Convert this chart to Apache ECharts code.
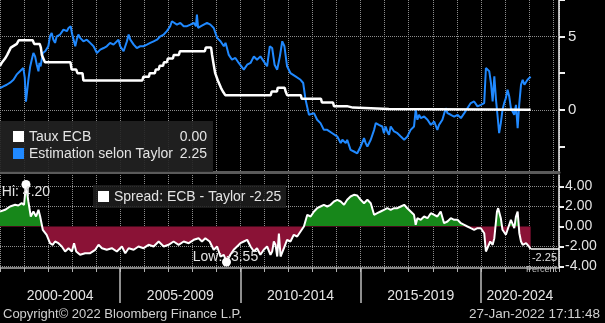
<!DOCTYPE html>
<html><head><meta charset="utf-8">
<script src="https://cdn.jsdelivr.net/npm/echarts@6/dist/echarts.min.js"></script>
<style>html,body{margin:0;padding:0;background:#000;}#c{width:605px;height:323px;}</style>
</head><body><div id="c"></div>
<script>
// ---- DATA (decimal years) ----
const ecbDates = [2000.00,2000.09,2000.21,2000.30,2000.45,2000.70,2000.78,2001.36,2001.42,2001.65,2001.70,2001.74,2001.87,
  2002.93,2002.98,2003.17,2003.22,2003.43,2003.47,2005.92,2005.96,2006.19,2006.23,2006.44,2006.48,2006.60,2006.64,
  2006.78,2006.82,2006.94,2006.98,2007.19,2007.23,2007.44,2007.48,2008.52,2008.56,2008.78,2008.82,2008.87,2008.95,
  2009.06,2009.19,2009.27,2009.37,2011.26,2011.30,2011.52,2011.55,2011.84,2011.88,2011.94,2012.51,2012.55,2013.35,
  2013.39,2013.85,2013.89,2014.43,2014.47,2014.68,2014.72,2016.17,2016.21,2022.07];
const ecbValues = [3.00,3.25,3.50,3.75,4.25,4.50,4.75,4.75,4.50,4.50,4.25,3.75,3.25,
  3.25,2.75,2.75,2.50,2.50,2.00,2.00,2.25,2.25,2.50,2.50,2.75,2.75,3.00,
  3.00,3.25,3.25,3.50,3.50,3.75,3.75,4.00,4.00,4.25,4.25,3.75,3.25,2.50,
  2.00,1.50,1.25,1.00,1.00,1.25,1.25,1.50,1.50,1.25,1.00,1.00,0.75,0.75,
  0.50,0.50,0.25,0.25,0.15,0.15,0.05,0.05,0.00,0.00];

const taylorDates = [2000.00,2000.14,2000.28,2000.42,2000.56,2000.69,2000.83,2000.97,2001.03,2001.08,2001.13,2001.18,2001.25,
  2001.32,2001.39,2001.46,2001.53,2001.60,2001.64,2001.69,2001.78,2001.88,2002.01,2002.08,2002.15,2002.22,2002.29,
  2002.36,2002.50,2002.64,2002.78,2002.85,2002.94,2002.99,2003.06,2003.13,2003.19,2003.26,2003.33,2003.47,2003.61,
  2003.75,2003.89,2004.03,2004.17,2004.31,2004.44,2004.58,2004.72,2004.93,2005.00,2005.14,2005.28,2005.35,2005.42,
  2005.56,2005.69,2005.83,2005.97,2006.11,2006.25,2006.39,2006.53,2006.67,2006.81,2006.94,2007.08,2007.15,2007.22,
  2007.36,2007.50,2007.64,2007.78,2007.92,2008.06,2008.15,2008.19,2008.24,2008.36,2008.61,2008.75,2008.89,2009.03,
  2009.17,2009.24,2009.31,2009.38,2009.44,2009.51,2009.65,2009.79,2009.93,2010.14,2010.28,2010.42,2010.56,2010.69,
  2010.83,2010.97,2011.11,2011.22,2011.32,2011.42,2011.53,2011.64,2011.74,2011.83,2011.94,2012.08,2012.29,2012.50,
  2012.61,2012.71,2012.85,2013.06,2013.19,2013.33,2013.47,2013.61,2013.82,2013.89,2014.03,2014.17,2014.24,2014.31,
  2014.38,2014.44,2014.58,2014.72,2014.86,2014.93,2015.00,2015.14,2015.21,2015.28,2015.42,2015.56,2015.63,2015.76,
  2015.90,2015.97,2016.04,2016.11,2016.18,2016.25,2016.39,2016.53,2016.67,2016.81,2016.88,2016.94,2017.08,2017.22,
  2017.29,2017.36,2017.43,2017.50,2017.64,2017.78,2017.92,2018.06,2018.19,2018.26,2018.33,2018.40,2018.54,2018.61,
  2018.75,2018.89,2019.03,2019.17,2019.31,2019.44,2019.58,2019.72,2019.86,2020.00,2020.14,2020.21,2020.35,2020.42,
  2020.49,2020.56,2020.63,2020.69,2020.76,2020.83,2020.90,2020.97,2021.04,2021.11,2021.18,2021.25,2021.39,2021.46,
  2021.53,2021.60,2021.67,2021.74,2021.81,2021.94,2022.07];
const taylorValues = [1.48,1.60,1.71,1.85,2.05,2.40,2.63,2.85,2.20,0.55,1.30,2.05,2.90,
  3.42,3.88,3.65,3.08,2.63,3.20,2.97,3.88,4.00,4.34,5.02,5.25,4.79,4.57,
  5.02,5.14,5.48,5.37,5.59,5.71,5.25,4.79,4.34,4.79,5.14,4.91,4.68,4.79,
  4.57,4.34,3.88,4.11,4.22,4.34,4.57,4.45,4.79,4.34,4.00,4.68,5.14,4.79,
  4.45,4.22,4.34,4.34,4.45,4.57,4.68,4.79,5.02,5.14,5.37,5.71,6.05,6.16,
  5.82,5.94,5.71,5.71,5.82,5.94,5.70,6.50,5.59,5.71,5.94,5.82,5.59,4.91,
  4.68,4.57,4.34,4.57,4.22,3.77,3.42,3.54,3.20,2.74,3.08,3.20,3.65,3.42,
  3.65,3.31,2.97,4.34,4.22,3.08,2.74,3.65,4.68,4.34,2.97,2.51,2.28,2.05,
  1.83,0.68,-0.34,-0.23,-0.68,-0.91,-1.37,-1.37,-1.60,-1.60,-1.83,-2.28,-2.05,-1.94,
  -2.28,-2.05,-2.74,-2.85,-2.97,-3.08,-2.51,-1.94,-2.28,-2.51,-2.05,-1.37,-0.91,-1.03,
  -1.14,-1.60,-1.14,-1.48,-1.71,-1.14,-1.48,-1.60,-1.83,-2.05,-2.17,-1.83,-1.37,-1.14,
  0.00,-0.68,-0.34,-0.57,-0.46,-0.68,-1.03,-0.80,-1.37,-1.03,-1.14,-0.68,0.11,-0.23,
  -0.34,-0.46,-0.34,-0.57,-0.23,0.11,0.46,0.57,0.23,0.34,0.46,2.85,2.63,1.83,
  0.57,2.28,0.68,-0.34,-1.60,-0.91,0.00,0.46,0.80,1.37,0.91,0.11,-0.34,0.34,
  -1.26,0.46,1.71,2.05,1.71,2.05,2.25];

const spreadDates = [2000.00,2000.21,2000.42,2000.63,2000.76,2000.90,2001.00,2001.08,2001.18,2001.28,2001.39,2001.50,2001.60,
  2001.67,2001.78,2001.94,2002.08,2002.19,2002.29,2002.43,2002.57,2002.71,2002.85,2002.99,2003.08,2003.17,2003.33,
  2003.54,2003.75,2003.96,2004.10,2004.24,2004.44,2004.65,2004.86,2005.07,2005.21,2005.35,2005.56,2005.76,2005.97,
  2006.18,2006.39,2006.60,2006.81,2007.01,2007.22,2007.43,2007.64,2007.85,2008.06,2008.26,2008.40,2008.54,2008.72,
  2008.89,2009.03,2009.17,2009.31,2009.42,2009.58,2009.72,2009.86,2010.00,2010.14,2010.28,2010.42,2010.56,2010.69,
  2010.83,2010.97,2011.11,2011.25,2011.32,2011.39,2011.46,2011.53,2011.60,2011.67,2011.81,2011.94,2012.08,2012.22,
  2012.36,2012.50,2012.64,2012.78,2012.92,2013.06,2013.19,2013.33,2013.47,2013.61,2013.75,2013.89,2014.03,2014.17,
  2014.31,2014.44,2014.58,2014.72,2014.86,2014.93,2015.00,2015.14,2015.28,2015.42,2015.56,2015.69,2015.83,2015.97,
  2016.11,2016.25,2016.39,2016.53,2016.67,2016.81,2016.94,2017.08,2017.22,2017.29,2017.36,2017.50,2017.64,2017.78,
  2017.92,2018.06,2018.19,2018.33,2018.47,2018.61,2018.75,2018.89,2019.03,2019.17,2019.31,2019.44,2019.58,2019.72,
  2019.86,2020.00,2020.14,2020.21,2020.28,2020.39,2020.49,2020.56,2020.67,2020.72,2020.83,2020.90,2021.04,2021.11,
  2021.25,2021.39,2021.46,2021.53,2021.60,2021.67,2021.74,2021.88,2022.00,2022.03,2022.07];
const spreadValues = [1.50,1.67,2.00,2.17,2.10,2.33,2.17,4.20,2.50,1.00,1.50,1.00,1.67,
  1.00,-0.33,-0.83,-1.67,-1.83,-1.50,-1.67,-2.00,-2.50,-2.17,-2.50,-1.67,-2.50,-2.83,
  -2.67,-2.67,-2.33,-1.83,-2.17,-2.33,-2.17,-2.50,-2.00,-2.67,-2.17,-2.33,-2.00,-2.17,
  -1.83,-2.00,-1.50,-2.00,-1.83,-1.50,-1.83,-1.50,-1.67,-1.33,-1.17,-1.50,-1.17,-1.50,
  -2.33,-2.00,-3.00,-2.83,-3.55,-2.83,-2.33,-2.00,-1.67,-1.50,-1.33,-2.00,-2.50,-2.17,
  -2.83,-2.33,-2.00,-2.83,-2.50,-1.50,-1.83,-3.00,-0.70,-3.00,-2.17,-1.33,-1.50,-0.83,
  -1.00,-0.50,0.00,1.17,1.00,1.50,1.83,2.00,2.17,2.00,2.17,2.50,2.67,2.50,
  2.17,2.67,3.00,3.17,3.10,3.17,2.67,2.33,2.67,2.33,1.17,1.33,1.50,1.67,
  1.83,1.67,1.83,1.83,2.00,2.17,1.83,1.50,1.17,0.17,0.83,0.67,1.00,0.83,
  1.33,1.17,1.00,1.50,0.33,0.50,0.83,0.67,0.67,0.33,0.17,0.00,-0.17,-0.33,
  -0.17,-0.17,-0.67,-2.50,-2.67,-1.50,-1.83,-1.17,1.50,1.83,0.83,-0.33,-0.83,-0.67,
  0.67,-0.17,1.00,1.50,-0.67,-1.50,-1.83,-1.67,-2.00,-2.17,-2.25];

const spreadHi = [2001.08, 4.20];
const spreadLow = [2009.42, -3.55];
const upperTickValues = [-2.5, 0, 2.5, 5, 7.5];
const upperLabelValues = [0, 5];
const upperGridValues = [0, 5];
const lowerLabelValues = [-4, -2, 0, 2, 4];
const lowerGridValues = [-4, -2, 2, 4];
const periodStarts = [2000, 2005, 2010, 2015, 2020];
const periodLabels = ['2000-2004', '2005-2009', '2010-2014', '2015-2019', '2020-2024'];
const seriesNames = ['Taux ECB', 'Estimation selon Taylor', 'Spread: ECB - Taylor'];
const copyrightText = 'Copyright\u00A9 2022 Bloomberg Finance L.P.';
const stampText = '27-Jan-2022 17:11:48';
const unitText = 'Percent';

// ---- BUILD ----
const xMin = 2000, xMax = 2023.25;
const lowMin = -4.15, lowMax = 5.15;
const pairs = (d, v) => d.map((x, i) => [x, v[i]]);
const ecbData = pairs(ecbDates, ecbValues);
const taylorData = pairs(taylorDates, taylorValues);
const spreadData = pairs(spreadDates, spreadValues);
const last = a => a[a.length - 1];
const periodCenters = periodStarts.map((s, i) => i < periodStarts.length - 1 ? s + 2.5 : (s + xMax) / 2);
const lastSpreadX = last(spreadDates), lastSpreadV = last(spreadValues);

const TXT = '#e4e4e4';
const GREEN = '#17871a', MAROON = '#8a1236';
const FONT = 'Liberation Sans, Arial, sans-serif';
const dotted = () => ({ color: '#8c8c8c', width: 1, type: 'dotted', dashOffset: 0 });

const chart = echarts.init(document.getElementById('c'), null, { renderer: 'canvas' });
chart.setOption({
  backgroundColor: '#000',
  animation: false,
  textStyle: { fontFamily: FONT },
  grid: [
    { left: 0, right: 46, top: 0, height: 172 },
    { left: 0, right: 46, top: 175, height: 93 }
  ],
  xAxis: [
    { gridIndex: 0, type: 'value', min: xMin, max: xMax, interval: 1,
      axisLine: { show: true, onZero: false, lineStyle: { color: '#5a5a5a', width: 3 } },
      axisTick: { show: false }, axisLabel: { show: false },
      splitLine: { show: true, lineStyle: dotted() } },
    { gridIndex: 1, type: 'value', min: xMin, max: xMax, interval: 1,
      axisLine: { show: true, onZero: false, lineStyle: { color: '#b0b0b0', width: 1.5 } },
      axisTick: { show: true, length: 4, lineStyle: { color: '#b0b0b0' } },
      axisLabel: { show: false },
      splitLine: { show: true, lineStyle: dotted() } },
    { gridIndex: 1, type: 'value', min: xMin, max: xMax, position: 'bottom',
      axisLine: { show: false, onZero: false },
      axisTick: { show: false },
      axisLabel: { show: true, customValues: periodCenters, margin: 21, color: TXT, fontSize: 14, fontFamily: FONT,
        formatter: v => { const i = periodCenters.findIndex(c => Math.abs(c - v) < 1e-6); return i >= 0 ? periodLabels[i] : ''; } },
      splitLine: { show: false } },
    { gridIndex: 1, type: 'value', min: xMin, max: xMax, position: 'bottom',
      axisLine: { show: false, onZero: false },
      axisTick: { show: true, customValues: periodStarts.slice(1), length: 35, lineStyle: { color: '#bdbdbd', width: 1.5 } },
      axisLabel: { show: false },
      splitLine: { show: false } }
  ],
  yAxis: [
    { gridIndex: 0, type: 'value', position: 'right', min: -4.25, max: 7.5,
      axisLine: { show: true, lineStyle: { color: '#f0f0f0', width: 1.5 } },
      axisTick: { show: true, customValues: upperTickValues, length: 6, lineStyle: { color: '#f0f0f0', width: 2 } },
      axisLabel: { show: true, customValues: upperLabelValues, margin: 9, color: TXT, fontSize: 15, fontFamily: FONT },
      splitLine: { show: false } },
    { gridIndex: 1, type: 'value', position: 'right', min: lowMin, max: lowMax,
      axisLine: { show: true, lineStyle: { color: '#f0f0f0', width: 1.5 } },
      axisTick: { show: true, customValues: lowerLabelValues, length: 5, lineStyle: { color: '#f0f0f0', width: 2 } },
      axisLabel: { show: true, customValues: lowerLabelValues, margin: 6, color: TXT, fontSize: 14, fontFamily: FONT,
        formatter: v => v.toFixed(2) },
      splitLine: { show: false } }
  ],
  series: [
    { name: seriesNames[1], type: 'line', xAxisIndex: 0, yAxisIndex: 0, data: taylorData,
      showSymbol: false, symbol: 'none', z: 2,
      lineStyle: { color: '#2089ff', width: 2 },
      markLine: { silent: true, symbol: ['none', 'none'], z: 1, label: { show: false },
        lineStyle: dotted(), data: upperGridValues.map(v => ({ yAxis: v })) } },
    { name: seriesNames[0], type: 'line', xAxisIndex: 0, yAxisIndex: 0, data: ecbData,
      showSymbol: false, symbol: 'none', z: 3,
      lineStyle: { color: '#ffffff', width: 2.5 } },
    { id: 'spreadArea', name: seriesNames[2] + ' area', type: 'line', xAxisIndex: 1, yAxisIndex: 1, data: spreadData,
      showSymbol: false, symbol: 'none', z: 2,
      lineStyle: { width: 0, opacity: 0 },
      areaStyle: { opacity: 1, origin: 0, color: MAROON } },
    { name: seriesNames[2], type: 'line', xAxisIndex: 1, yAxisIndex: 1, data: spreadData,
      showSymbol: false, symbol: 'none', z: 4,
      lineStyle: { color: '#ffffff', width: 2 },
      markPoint: {
        silent: true, symbol: 'circle', symbolSize: 9, itemStyle: { color: '#ffffff' },
        data: [
          { coord: spreadHi, value: spreadHi[1],
            label: { show: true, position: 'inside', offset: [0, 8], formatter: 'Hi: ' + spreadHi[1].toFixed(2),
              color: TXT, fontSize: 14, fontFamily: FONT } },
          { coord: spreadLow, value: spreadLow[1],
            label: { show: true, position: 'inside', offset: [-1, -5], formatter: 'Low: ' + spreadLow[1].toFixed(2),
              color: TXT, fontSize: 14, fontFamily: FONT } }
        ]
      },
      markLine: {
        silent: true, symbol: ['none', 'none'], z: 1,
        data: [
          ...lowerGridValues.map(v => ({ yAxis: v, lineStyle: dotted(), label: { show: false } })),
          [ { coord: [lastSpreadX, lastSpreadV], lineStyle: { color: '#ffffff', width: 1.5, type: 'solid' },
              label: { show: true, position: 'insideEndBottom', distance: [2, 2],
                formatter: '{a|' + lastSpreadV.toFixed(2) + '}\n{b|' + unitText + '}',
                rich: { a: { color: '#e0e0e0', fontSize: 11, fontFamily: FONT, lineHeight: 13 },
                        b: { color: '#bdbdbd', fontSize: 9, fontFamily: FONT, lineHeight: 11 } } } },
            { coord: [xMax, lastSpreadV] } ]
        ]
      } }
  ],
  graphic: [
    { type: 'rect', z: 50, shape: { x: 0, y: 121, width: 213, height: 51 }, style: { fill: 'rgba(34,34,34,0.9)' } },
    { type: 'rect', z: 51, shape: { x: 13, y: 131, width: 11, height: 11 }, style: { fill: '#ffffff' } },
    { type: 'rect', z: 51, shape: { x: 13, y: 148, width: 11, height: 11 }, style: { fill: '#2089ff' } },
    { type: 'text', z: 51, x: 29, y: 137, style: { text: seriesNames[0], fill: TXT, font: '14px ' + FONT, textVerticalAlign: 'middle' } },
    { type: 'text', z: 51, x: 29, y: 154, style: { text: seriesNames[1], fill: TXT, font: '14px ' + FONT, textVerticalAlign: 'middle' } },
    { type: 'text', z: 51, x: 207, y: 137, style: { text: last(ecbValues).toFixed(2), fill: TXT, font: '14px ' + FONT, textAlign: 'right', textVerticalAlign: 'middle' } },
    { type: 'text', z: 51, x: 207, y: 154, style: { text: last(taylorValues).toFixed(2), fill: TXT, font: '14px ' + FONT, textAlign: 'right', textVerticalAlign: 'middle' } },
    { type: 'rect', z: 50, shape: { x: 93, y: 185, width: 193, height: 23 }, style: { fill: 'rgba(30,30,30,0.85)' } },
    { type: 'rect', z: 51, shape: { x: 98, y: 191, width: 11, height: 11 }, style: { fill: '#ffffff' } },
    { type: 'text', z: 51, x: 114, y: 197, style: { text: seriesNames[2] + ' ' + lastSpreadV.toFixed(2), fill: TXT, font: '14px ' + FONT, textVerticalAlign: 'middle' } },
    { type: 'text', z: 51, x: 3, y: 314, style: { text: copyrightText, fill: '#d0d0d0', font: '13px ' + FONT, textVerticalAlign: 'middle' } },
    { type: 'text', z: 51, x: 600, y: 314, style: { text: stampText, fill: '#d0d0d0', font: '13.5px ' + FONT, textAlign: 'right', textVerticalAlign: 'middle' } }
  ]
});

// Two-colour fill split at zero, positioned through the lower axis scale
const pxTop = chart.convertToPixel({ xAxisIndex: 1, yAxisIndex: 1 }, [xMin, lowMax])[1];
const pxZero = chart.convertToPixel({ xAxisIndex: 1, yAxisIndex: 1 }, [xMin, 0])[1];
const pxBot = chart.convertToPixel({ xAxisIndex: 1, yAxisIndex: 1 }, [xMin, lowMin])[1];
const f = (pxZero - pxTop) / (pxBot - pxTop);
chart.setOption({
  series: [{ id: 'spreadArea', areaStyle: { opacity: 1, origin: 0,
    color: new echarts.graphic.LinearGradient(0, pxTop, 0, pxBot, [
      { offset: 0, color: GREEN }, { offset: f, color: GREEN },
      { offset: f, color: MAROON }, { offset: 1, color: MAROON }], true) } }]
});
</script>
</body></html>
